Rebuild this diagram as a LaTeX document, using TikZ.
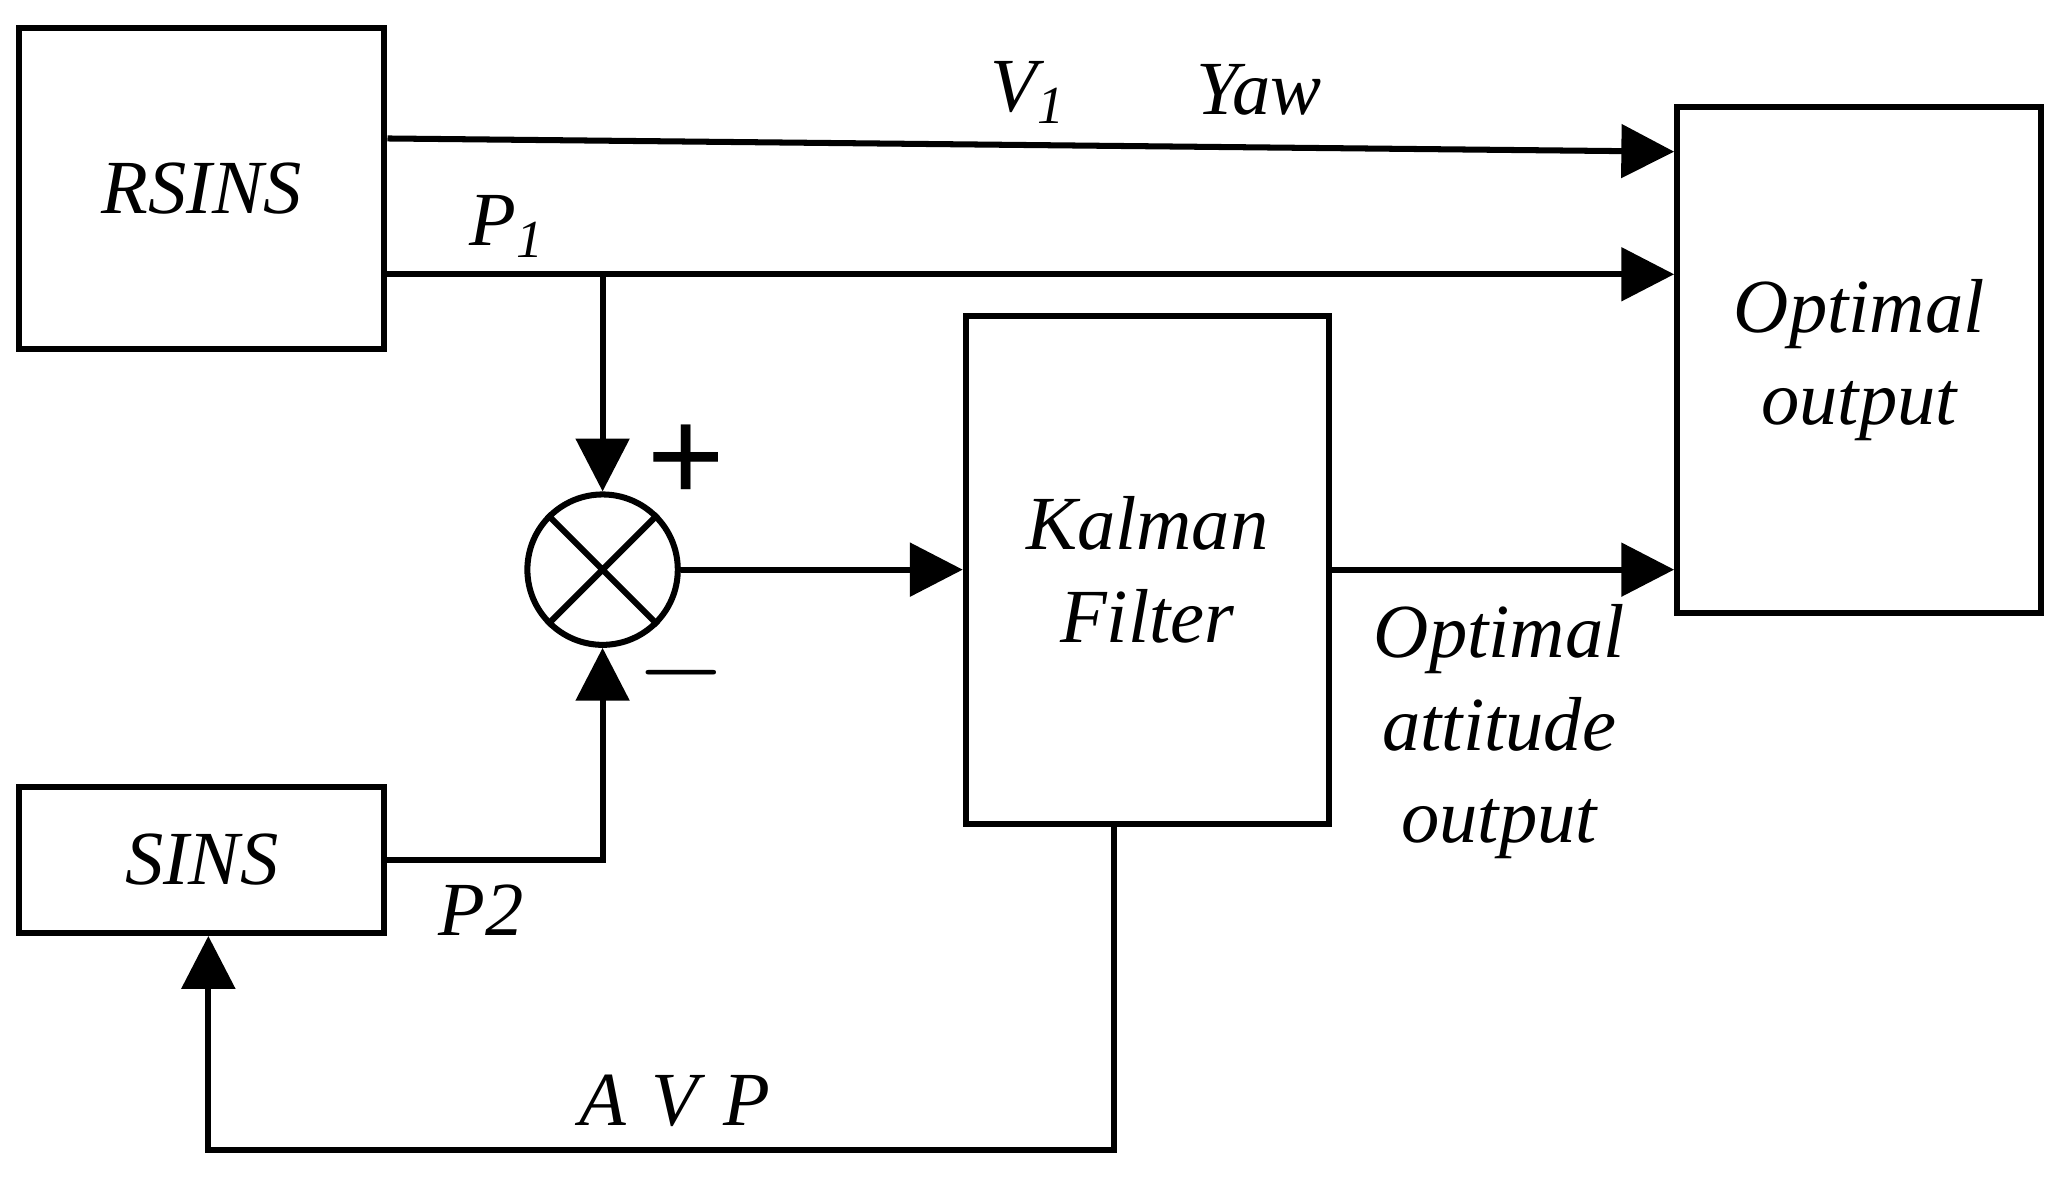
\documentclass[tikz,border=0pt]{standalone}
\usepackage{fontspec}
\setmainfont{Liberation Serif}
\usetikzlibrary{positioning,arrows.meta,calc}

\begin{document}
\begin{tikzpicture}[x=0.01cm,y=-0.01cm,line width=1.3pt,
  font={\fontsize{16.5}{20}\selectfont\itshape},
  block/.style={draw,rectangle,inner sep=0pt,align=center},
  tip/.style={-{Triangle[length=0.4cm,width=0.4cm]}}]
  \useasboundingbox (0,0) rectangle (1560,902);
  \node[block,minimum width=2.77cm,minimum height=2.43cm] (rsins) at (153,143) {RSINS};
  \node[block,minimum width=2.77cm,minimum height=1.11cm] (sins) at (153,652) {SINS};
  \node[block,minimum width=2.75cm,minimum height=3.85cm] (kf) at (870,432) {Kalman\\Filter};
  \node[block,minimum width=2.76cm,minimum height=3.83cm] (opt) at (1410,273) {Optimal\\output};
  \node[draw,circle,minimum size=1.14cm,inner sep=0pt] (sum) at (457,432) {};
  \draw (sum.north west) -- (sum.south east) (sum.north east) -- (sum.south west);
  % signals
  \draw[tip] (rsins.east |- 0,105) -- (opt.west |- 0,115);
  \draw[tip] (rsins.east |- 0,208) -- (opt.west |- 0,208);
  \coordinate (p1) at (457,208);
  \draw[tip] (p1) -- (sum.north);
  \draw[tip] (sins.east) -| (sum.south);
  \draw[tip] (sum.east) -- (kf.west |- sum.east);
  \draw[tip] (kf.east |- 0,432) -- (opt.west |- 0,432);
  \coordinate (fb) at (845,872);
  \draw[tip] (kf.south -| fb) -- (fb) -| (sins.south -| 158,0);
  % labels
  \node (v1) at (780,70) {V\textsubscript{1}};
  \node (yaw) at (955,68) {Yaw};
  \node (lp1) at (385,172) {P\textsubscript{1}};
  \node[font=\fontsize{30}{30}\selectfont\bfseries] (plus) at (520,352) {+};
  \node[font=\fontsize{30}{30}\selectfont\bfseries] (minus) at (517,510) {$-$};
  \node (lp2) at (365,690) {P2};
  \node (avp) at (512,835) {A\,\,V\,\,P};
  \node[align=center] (oao) at (1137,555) {Optimal\\attitude\\output};
\end{tikzpicture}
\end{document}
